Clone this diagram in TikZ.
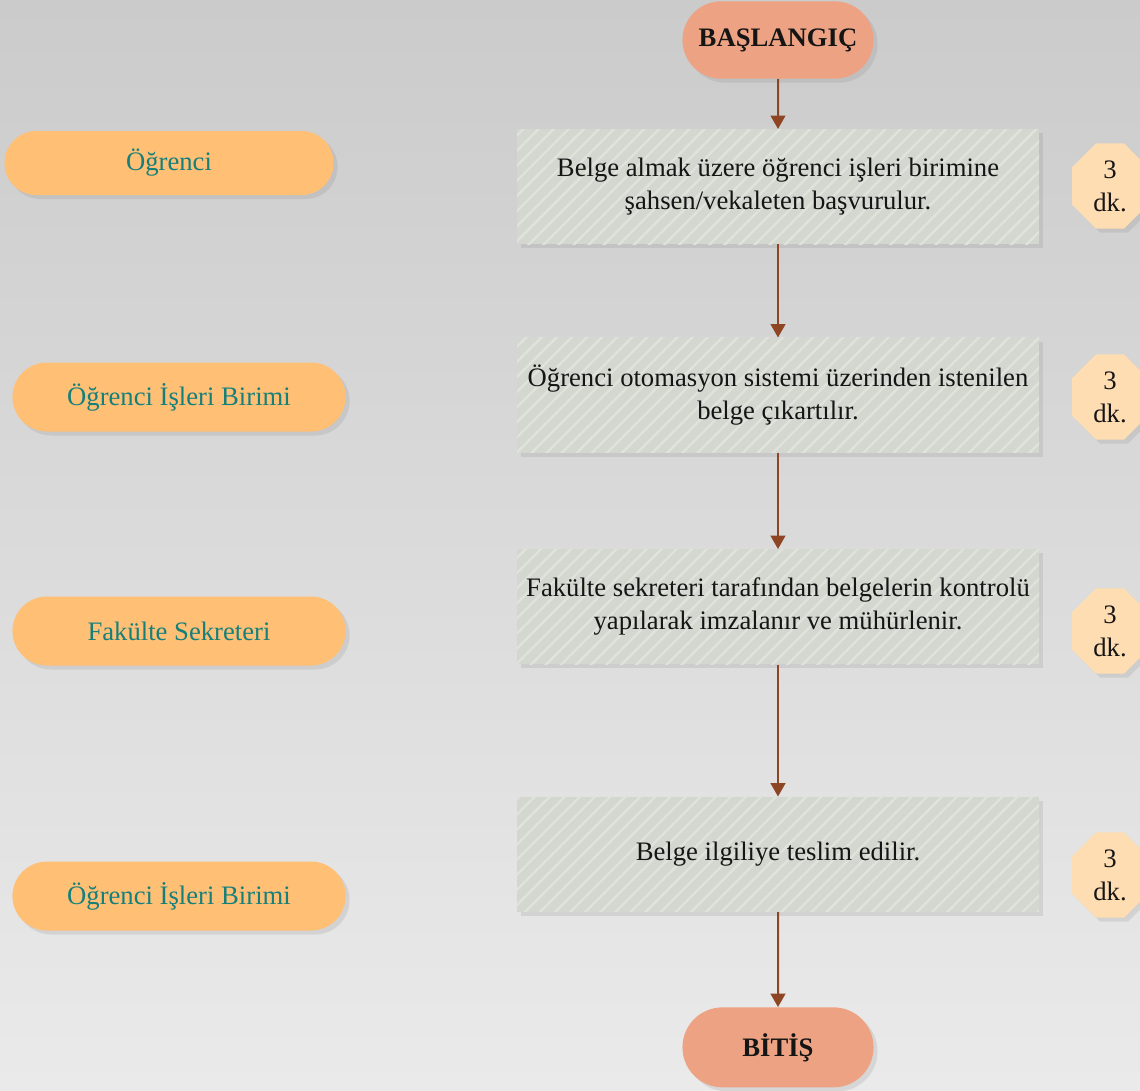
\documentclass[tikz,border=0pt]{standalone}
\usepackage{fontspec}
\setmainfont{Liberation Serif}
\usetikzlibrary{arrows.meta,positioning,shapes.misc,shadows,patterns.meta}
\definecolor{bgtop}{HTML}{CBCBCB}
\definecolor{bgbottom}{HTML}{EAEAEA}
\definecolor{terminalfill}{HTML}{EDA383}
\definecolor{rolefill}{HTML}{FFBF75}
\definecolor{roletext}{HTML}{15807A}
\definecolor{stepfill}{HTML}{D4D7CF}
\definecolor{hatch}{HTML}{E0E2DC}
\definecolor{timefill}{HTML}{FFDDB2}
\definecolor{flow}{HTML}{8E4524}
\definecolor{ink}{HTML}{151515}
\tikzset{
  >={Triangle[length=10pt,width=11pt]},
  every node/.style={font=\fontsize{20}{24.75}\selectfont,text=ink},
  shadowed/.style={drop shadow={opacity=.18,shadow xshift=3pt,shadow yshift=-3pt}},
  terminal/.style={rounded rectangle,fill=terminalfill,minimum width=150pt,minimum height=58pt,font=\fontsize{20}{24}\selectfont\bfseries,shadowed},
  rolebox/.style={rounded rectangle,fill=rolefill,minimum width=256.5pt,minimum height=51.75pt,text=roletext,shadowed},
  stepbox/.style={fill=stepfill,postaction={pattern={Lines[angle=45,distance=8pt,line width=1.8pt]},pattern color=hatch},minimum width=391.5pt,minimum height=86.25pt,align=center,inner sep=4pt,shadowed},
  timebox/.style={chamfered rectangle,chamfered rectangle xsep=15pt,fill=timefill,minimum width=57pt,minimum height=64pt,align=center,inner sep=1pt,shadowed},
  arrow/.style={->,line width=1.5pt,draw=flow},
}

\begin{document}
\begin{tikzpicture}[x=0.75pt,y=-0.75pt]
  \shade[top color=bgtop,bottom color=bgbottom] (0,0) rectangle (1140,1090);
  \useasboundingbox (0,0) rectangle (1140,1090);
  % main flow
  \node[terminal] (start) at (778,40) {BAŞLANGIÇ};
  \node[stepbox,below=37.5pt of start] (s1) {Belge almak üzere öğrenci işleri birimine\\şahsen/vekaleten başvurulur.};
  \node[stepbox,below=69.75pt of s1] (s2) {Öğrenci otomasyon sistemi üzerinden istenilen\\belge çıkartılır.};
  \node[stepbox,below=72pt of s2] (s3) {Fakülte sekreteri tarafından belgelerin kontrolü\\yapılarak imzalanır ve mühürlenir.};
  \node[stepbox,below=99pt of s3] (s4) {Belge ilgiliye teslim edilir.};
  \node[terminal,below=71.25pt of s4,minimum height=60pt] (finish) {BİTİŞ};
  \draw[arrow] (start) -- (s1);
  \draw[arrow] (s1) -- (s2);
  \draw[arrow] (s2) -- (s3);
  \draw[arrow] (s3) -- (s4);
  \draw[arrow] (s4) -- (finish);
  % who does it
  \node[rolebox,minimum width=253.5pt,minimum height=48pt] (r1) at (169,163) {Öğrenci};
  \node[rolebox] (r2) at (179,397) {Öğrenci İşleri Birimi};
  \node[rolebox] (r3) at (179,631) {Fakülte Sekreteri};
  \node[rolebox] (r4) at (179,896) {Öğrenci İşleri Birimi};
  % durations
  \node[timebox] (t1) at (1110,186) {3\\dk.};
  \node[timebox] (t2) at (1110,397) {3\\dk.};
  \node[timebox] (t3) at (1110,631) {3\\dk.};
  \node[timebox] (t4) at (1110,875) {3\\dk.};
\end{tikzpicture}
\end{document}
